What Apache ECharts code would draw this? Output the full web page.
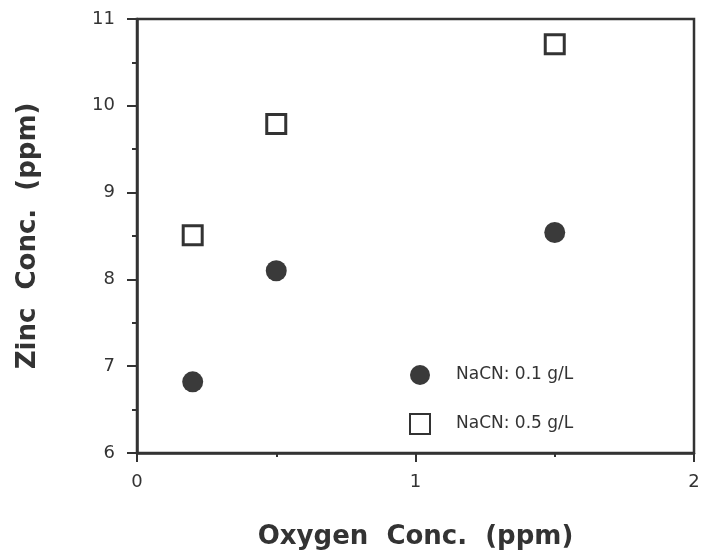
<!DOCTYPE html>
<html>
<head>
<meta charset="utf-8">
<script src="https://cdn.jsdelivr.net/npm/echarts@6/dist/echarts.min.js"></script>
<style>
html,body{margin:0;padding:0;background:#fff;}
#chart{width:703px;height:553px;}
</style>
</head>
<body>
<div id="chart"></div>
<script>
var seriesNames = ['NaCN: 0.1 g/L', 'NaCN: 0.5 g/L'];
var oxygen = [0.2, 0.5, 1.5];
var zincLow = [6.82, 8.10, 8.54];
var zincHigh = [8.51, 9.79, 10.71];
var xTicks = [0, 1, 2];
var yTicks = [6, 7, 8, 9, 10, 11];

function pairs(xs, ys) { return xs.map(function (x, i) { return [x, ys[i]]; }); }

var ink = '#333';
var chart = echarts.init(document.getElementById('chart'));
chart.setOption({
  backgroundColor: '#fff',
  animation: false,
  grid: { left: 137, right: 9, top: 19, bottom: 100, containLabel: false, outerBoundsMode: 'none',
          show: true, borderColor: ink, borderWidth: 2.5, backgroundColor: 'transparent' },
  legend: {
    orient: 'vertical', left: 409, top: 365, padding: 0, itemWidth: 20, itemHeight: 20, itemGap: 28,
    data: seriesNames,
    textStyle: { fontFamily: 'DejaVu Sans', fontSize: 17, color: ink, padding: [0, 0, 0, 21] }
  },
  xAxis: {
    type: 'value', min: xTicks[0], max: xTicks[xTicks.length - 1], interval: 1,
    name: 'Oxygen  Conc.  (ppm)', nameLocation: 'middle', nameGap: 71,
    nameTextStyle: { fontFamily: 'DejaVu Sans', fontWeight: 'bold', fontSize: 26, color: ink },
    axisLine: { lineStyle: { color: ink, width: 2.5 } },
    axisTick: { length: 9, lineStyle: { color: ink, width: 2 } },
    minorTick: { show: true, splitNumber: 2, length: 4, lineStyle: { color: ink, width: 2 } },
    splitLine: { show: false },
    axisLabel: { margin: 20, fontFamily: 'DejaVu Sans', fontSize: 18, color: ink }
  },
  yAxis: {
    type: 'value', min: yTicks[0], max: yTicks[yTicks.length - 1], interval: 1,
    name: 'Zinc  Conc.  (ppm)', nameLocation: 'middle', nameGap: 96, nameRotate: 90,
    nameTextStyle: { fontFamily: 'DejaVu Sans', fontWeight: 'bold', fontSize: 26, color: ink },
    axisLine: { lineStyle: { color: ink, width: 2.5 } },
    axisTick: { length: 10, lineStyle: { color: ink, width: 2 } },
    minorTick: { show: true, splitNumber: 2, length: 5, lineStyle: { color: ink, width: 2 } },
    splitLine: { show: false },
    axisLabel: { margin: 22, fontFamily: 'DejaVu Sans', fontSize: 18, color: ink }
  },
  series: [
    {
      name: seriesNames[0], type: 'scatter', symbol: 'circle', symbolSize: 21,
      itemStyle: { color: '#3a3a3a', opacity: 1 },
      data: pairs(oxygen, zincLow)
    },
    {
      name: seriesNames[1], type: 'scatter', symbol: 'rect', symbolSize: 19,
      itemStyle: { color: '#fff', borderColor: '#333', borderWidth: 3, opacity: 1 },
      data: pairs(oxygen, zincHigh)
    }
  ]
});
</script>
</body>
</html>
